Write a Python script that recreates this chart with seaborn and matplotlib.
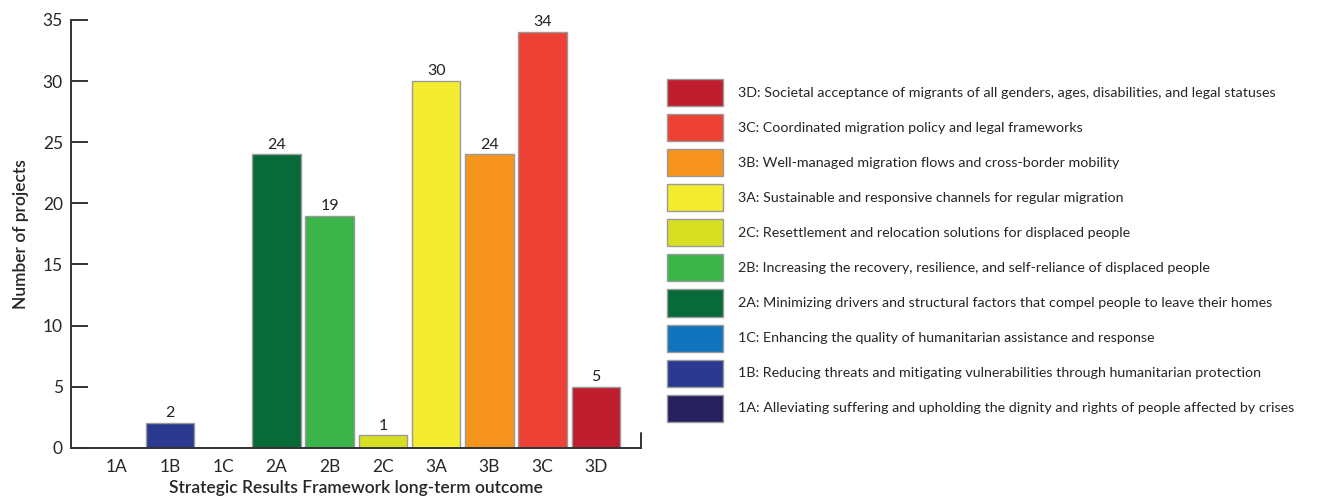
import matplotlib
matplotlib.use("Agg")
import matplotlib.pyplot as plt
import seaborn as sns
import pandas as pd
from matplotlib.patches import Patch

outcomes = ["1A", "1B", "1C", "2A", "2B", "2C", "3A", "3B", "3C", "3D"]
projects = [0, 2, 0, 24, 19, 1, 30, 24, 34, 5]
colors = ["#26215e", "#2b3990", "#1174bd", "#086a39", "#3bb44a",
          "#d7df23", "#f4ec2f", "#f7941d", "#ed4136", "#be1e2d"]
descriptions = [
    "1A: Alleviating suffering and upholding the dignity and rights of people affected by crises",
    "1B: Reducing threats and mitigating vulnerabilities through humanitarian protection",
    "1C: Enhancing the quality of humanitarian assistance and response",
    "2A: Minimizing drivers and structural factors that compel people to leave their homes",
    "2B: Increasing the recovery, resilience, and self-reliance of displaced people",
    "2C: Resettlement and relocation solutions for displaced people",
    "3A: Sustainable and responsive channels for regular migration",
    "3B: Well-managed migration flows and cross-border mobility",
    "3C: Coordinated migration policy and legal frameworks",
    "3D: Societal acceptance of migrants of all genders, ages, disabilities, and legal statuses",
]

sns.set_theme(style="white")
plt.rcParams["font.family"] = ["Lato", "DejaVu Sans"]

df = pd.DataFrame({"outcome": outcomes, "projects": projects})

fig = plt.figure(figsize=(13.27, 5.0), dpi=100)
ax = fig.add_axes([0.0537, 0.1046, 0.4293, 0.8554])

sns.barplot(data=df, x="outcome", y="projects", hue="outcome",
            palette=colors, saturation=1, legend=False, width=0.91,
            edgecolor="#9a9a9a", linewidth=1.0, ax=ax)

for cont, v in zip(ax.containers, projects):
    ax.bar_label(cont, labels=[str(v) if v > 0 else ""], padding=2,
                 fontsize=11.5, color="#222222")

ax.set_ylim(0, 35)
ax.set_xlim(-0.854, 9.845)
ax.set_yticks(range(0, 36, 5))
ax.tick_params(axis="y", direction="in", length=12, width=1.4,
               color="#333333", labelsize=12.5, pad=6, left=True)
ax.tick_params(axis="x", length=0, labelsize=12.5, pad=8)
for s in ["top", "right"]:
    ax.spines[s].set_visible(False)
for s in ["left", "bottom"]:
    ax.spines[s].set_color("#333333")
    ax.spines[s].set_linewidth(1.4)
# small end cap on the baseline
ax.plot([1, 1], [0, 0.035], transform=ax.transAxes, color="#333333",
        lw=1.4, clip_on=False)

ax.set_ylabel("Number of projects", fontsize=12.5, fontweight="semibold",
              labelpad=10)
ax.set_xlabel("Strategic Results Framework long-term outcome", fontsize=12.5,
              fontweight="semibold", labelpad=4)

handles = [Patch(facecolor=c, edgecolor="#9a9a9a", linewidth=1.0)
           for c in colors]
fig.legend(handles[::-1], descriptions[::-1], loc="upper left",
           bbox_to_anchor=(0.498, 0.853), frameon=False, fontsize=10.3,
           handlelength=3.92, handleheight=2.53, labelspacing=0.56,
           handletextpad=1.05, borderaxespad=0)

fig.savefig("out.png", dpi=100)
